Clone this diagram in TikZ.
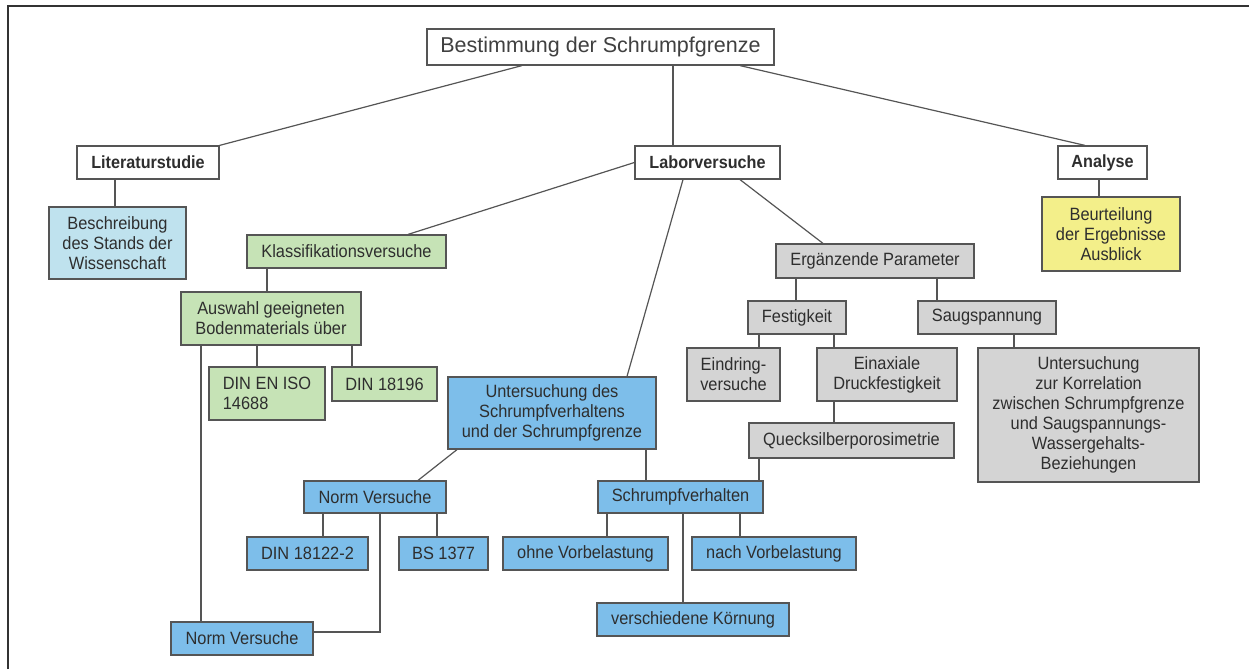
\documentclass[tikz,border=0pt]{standalone}
\usepackage{fontspec}
\setmainfont[FakeStretch=0.92]{Liberation Sans}
\newfontfamily\titlefont{Liberation Sans}
\definecolor{bordc}{HTML}{555555}
\definecolor{txtc}{HTML}{2E2E2E}
\definecolor{blu}{HTML}{7DBEEA}
\definecolor{lblu}{HTML}{BFE2EE}
\definecolor{grn}{HTML}{C6E3B6}
\definecolor{gry}{HTML}{D4D4D4}
\definecolor{yel}{HTML}{F3EF8A}
\begin{document}
\begin{tikzpicture}[x=1pt,y=-1pt,
  box/.style={draw=bordc, line width=1.2pt, inner sep=0pt, align=center, text=txtc,
    font=\fontsize{17.8}{20}\selectfont},
  wbox/.style={box, fill=white, font=\fontsize{17.6}{20}\selectfont\bfseries},
  bbox/.style={box, fill=blu},
  lbbox/.style={box, fill=lblu},
  gbox/.style={box, fill=grn},
  ybox/.style={box, fill=yel},
  grbox/.style={box, fill=gry},
  conn/.style={draw=bordc, line width=1.2pt}]
\useasboundingbox (0,0) rectangle (1249,669);
\draw[line width=1.5pt, black!80] (8,669) -- (8,6) -- (1249,6);

% level 0/1
\node[box, fill=white, minimum width=347pt, minimum height=36pt, text=black!75, font=\titlefont\fontsize{21.5}{24}\selectfont] (top) at (600.5,47) {Bestimmung der Schrumpfgrenze};
\node[wbox, minimum width=142pt, minimum height=33pt] (lit) at (148,162.5) {Literaturstudie};
\node[wbox, minimum width=145pt, minimum height=33pt] (lab) at (707.5,162.5) {Laborversuche};
\node[wbox, minimum width=89pt, minimum height=33pt] (ana) at (1102.5,162.5) {Analyse};

\node[lbbox, minimum width=137pt, minimum height=72pt] (besch) at (117.5,243) {Beschreibung\\des Stands der\\Wissenschaft};
\node[ybox, minimum width=138pt, minimum height=74pt] (beurt) at (1111,234) {Beurteilung\\der Ergebnisse\\Ausblick};

% green branch
\node[gbox, minimum width=199pt, minimum height=33pt] (klass) at (346.5,251.5) {Klassifikationsversuche};
\node[gbox, minimum width=180pt, minimum height=53pt] (ausw) at (271,318.5) {Auswahl geeigneten\\Bodenmaterials über};
\node[gbox, minimum width=116pt, minimum height=53pt, align=left] (din14688) at (267,393.5) {DIN EN ISO\\14688};
\node[gbox, minimum width=105pt, minimum height=34pt] (din18196) at (384.5,384) {DIN 18196};

% blue branch
\node[bbox, minimum width=208pt, minimum height=72pt] (unters) at (552,413) {Untersuchung des\\Schrumpfverhaltens\\und der Schrumpfgrenze};
\node[bbox, minimum width=142pt, minimum height=32pt] (normU) at (375,497) {Norm Versuche};
\node[bbox, minimum width=142pt, minimum height=33pt] (normL) at (242,638.5) {Norm Versuche};
\node[bbox, minimum width=121pt, minimum height=33pt] (din18122) at (307.5,553.5) {DIN 18122-2};
\node[bbox, minimum width=89pt, minimum height=33pt] (bs) at (443.5,553.5) {BS 1377};
\node[bbox, minimum width=165pt, minimum height=32pt] (schr) at (680.5,497) {Schrumpfverhalten};
\node[bbox, minimum width=165pt, minimum height=33pt] (ohne) at (585.5,553.5) {ohne Vorbelastung};
\node[bbox, minimum width=164pt, minimum height=33pt] (nach) at (774,553.5) {nach Vorbelastung};
\node[bbox, minimum width=192pt, minimum height=33pt] (koern) at (693,619.5) {verschiedene Körnung};

% gray branch
\node[grbox, minimum width=198pt, minimum height=34pt] (erg) at (875,261) {Ergänzende Parameter};
\node[grbox, minimum width=98pt, minimum height=33pt] (fest) at (797,317.5) {Festigkeit};
\node[grbox, minimum width=138pt, minimum height=33pt] (saug) at (987,317.5) {Saugspannung};
\node[grbox, minimum width=93pt, minimum height=53pt] (eindr) at (733.5,374.5) {Eindring-\\versuche};
\node[grbox, minimum width=140pt, minimum height=53pt] (einax) at (887,374.5) {Einaxiale\\Druckfestigkeit};
\node[grbox, minimum width=205pt, minimum height=35pt] (queck) at (851.5,440.5) {Quecksilberporosimetrie};
\node[grbox, minimum width=221pt, minimum height=134pt] (korr) at (1088.5,415) {Untersuchung\\zur Korrelation\\zwischen Schrumpfgrenze\\und Saugspannungs-\\Wassergehalts-\\Beziehungen};

% connectors
\draw[conn] (top.south -| 522,0) -- (lit.north east);
\draw[conn] (top.south -| 673,0) -- (lab.north -| 673,0);
\draw[conn] (top.south -| 740,0) -- (ana.north -| 1085,0);
\draw[conn] (lit.south -| 115,0) -- (besch.north -| 115,0);
\draw[conn] (ana.south -| 1099,0) -- (beurt.north -| 1099,0);

\draw[conn] (lab.west) -- (klass.north -| 408,0);
\draw[conn] (lab.south -| 683,0) -- (unters.north -| 627,0);
\draw[conn] (lab.south -| 740,0) -- (erg.north -| 823,0);

\draw[conn] (klass.south -| 267,0) -- (ausw.north -| 267,0);
\draw[conn] (ausw.south -| 257,0) -- (din14688.north -| 257,0);
\draw[conn] (ausw.south -| 352,0) -- (din18196.north -| 352,0);
\draw[conn] (ausw.south -| 201,0) -- (normL.north -| 201,0);

\draw[conn] (unters.south -| 457,0) -- (normU.north -| 418,0);
\draw[conn] (normU.south -| 323,0) -- (din18122.north -| 323,0);
\draw[conn] (normU.south -| 437,0) -- (bs.north -| 437,0);
\draw[conn] (normU.south -| 380,0) |- (normL.east |- 0,632);

\draw[conn] (unters.south -| 646,0) -- (schr.north -| 646,0);
\draw[conn] (schr.south -| 607,0) -- (ohne.north -| 607,0);
\draw[conn] (schr.south -| 740,0) -- (nach.north -| 740,0);
\draw[conn] (schr.south -| 683,0) -- (koern.north -| 683,0);

\draw[conn] (erg.south -| 796,0) -- (fest.north -| 796,0);
\draw[conn] (erg.south -| 937,0) -- (saug.north -| 937,0);
\draw[conn] (fest.south -| 759,0) -- (eindr.north -| 759,0);
\draw[conn] (fest.south -| 834,0) -- (einax.north -| 834,0);
\draw[conn] (einax.south -| 834,0) -- (queck.north -| 834,0);
\draw[conn] (queck.south -| 759,0) -- (schr.north -| 759,0);
\draw[conn] (saug.south -| 1014,0) -- (korr.north -| 1014,0);
\end{tikzpicture}
\end{document}
